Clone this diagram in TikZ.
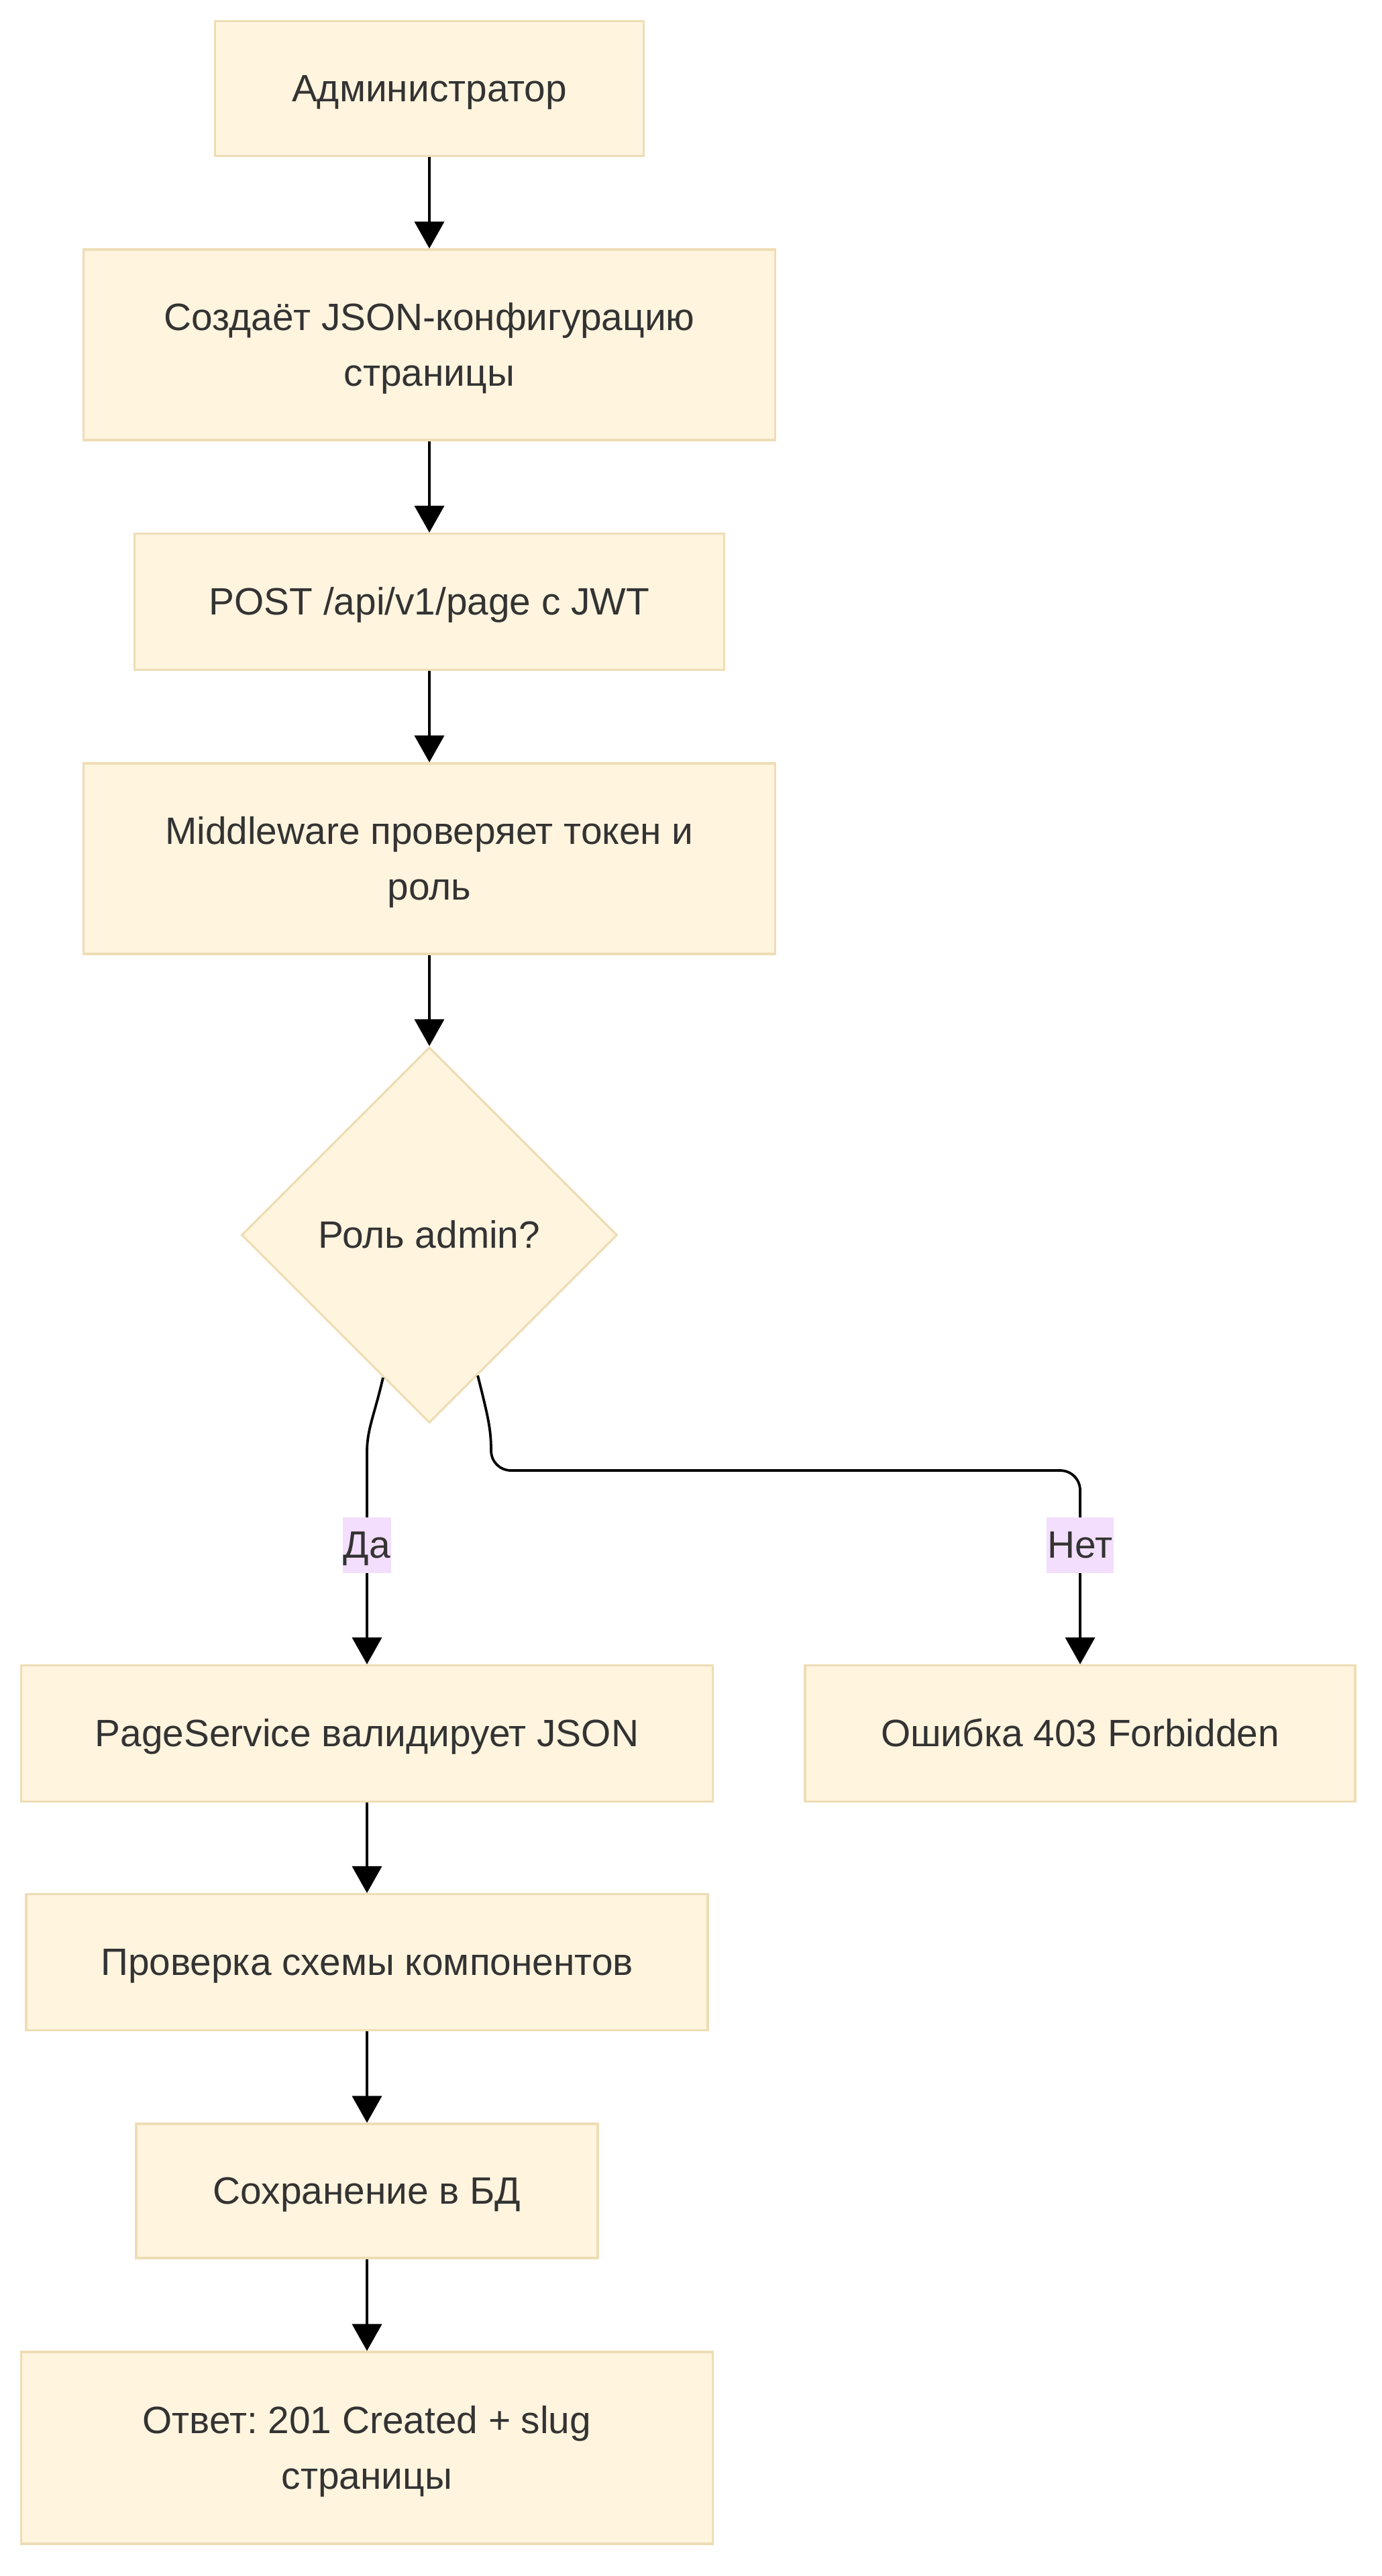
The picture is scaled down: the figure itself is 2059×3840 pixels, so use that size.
\documentclass[tikz,border=0pt]{standalone}
\usepackage{fontspec}
\setmainfont{Liberation Sans}
\usetikzlibrary{shapes.geometric,arrows.meta}
\definecolor{nodefill}{HTML}{FFF4DE}
\definecolor{nodeline}{HTML}{EEDDB5}
\definecolor{lblfill}{HTML}{F3DEFE}
\definecolor{txt}{HTML}{333333}
\newcommand\tb{\rule[-0.212em]{0pt}{1.117em}}
\frenchspacing
\begin{document}
\begin{tikzpicture}[x=0.25pt,y=-0.25pt,
  box/.style={draw=nodeline, fill=nodefill, line width=0.8pt, text=txt,
    font=\fontsize{14.2}{20.8}\selectfont, align=center, inner sep=0pt},
  dec/.style={box, diamond, aspect=1, minimum width=140pt, minimum height=140pt},
  arr/.style={line width=0.95pt, -{Triangle[length=10pt,width=11pt]}},
  lbl/.style={fill=lblfill, text=txt, font=\fontsize{14.2}{20.8}\selectfont,
    inner xsep=0.3pt, inner ysep=0pt, minimum height=20.75pt}]
\useasboundingbox[fill=white] (0,0) rectangle (2059,3840);

\node[box, minimum width=159.75pt, minimum height=50.25pt] (n1) at (640,132) {\tb Администратор};
\node[box, minimum width=257.75pt, minimum height=71pt] (n2) at (640,514) {\tb Создаёт JSON-конфигурацию\\страницы\tb};
\node[box, minimum width=219.75pt, minimum height=50.75pt] (n3) at (640,897) {\tb POST /api/v1/page с JWT};
\node[box, minimum width=257.75pt, minimum height=71pt] (n4) at (640,1280) {\tb Middleware проверяет токен и\\роль\tb};
\node[dec] (d) at (640,1841) {\tb Роль admin?};
\node[box, minimum width=257.75pt, minimum height=50.75pt] (n6) at (547,2584) {\tb PageService валидирует JSON};
\node[box, minimum width=205pt, minimum height=50.75pt] (n7) at (1610,2584) {\tb Ошибка 403 Forbidden};
\node[box, minimum width=254pt, minimum height=50.75pt] (n8) at (547,2925) {\tb Проверка схемы компонентов};
\node[box, minimum width=172pt, minimum height=50pt] (n9) at (547,3266) {\tb Сохранение в БД};
\node[box, minimum width=257.75pt, minimum height=71.5pt] (n10) at (547,3649) {\tb Ответ: 201 Created + slug\\страницы\tb};

\draw[arr] (n1) -- (n2);
\draw[arr] (n2) -- (n3);
\draw[arr] (n3) -- (n4);
\draw[arr] (n4) -- (d);
\draw[arr] (n6) -- (n8);
\draw[arr] (n8) -- (n9);
\draw[arr] (n9) -- (n10);

\coordinate (ya) at (547,2165);
\coordinate (na) at (732,2162);
\coordinate (nd) at (762,2192);
\coordinate (ne) at (1580,2192);
\coordinate (nf) at (1610,2222);
\draw[arr] (d.-108) .. controls (558,2110) and (547,2130) .. (ya) -- (n6.north);
\draw[arr] (d.-71) .. controls (727,2110) and (732,2130) .. (na)
  .. controls (732,2179) and (745,2192) .. (nd) -- (ne)
  .. controls (1597,2192) and (1610,2205) .. (nf) -- (n7.north);

\node[lbl] (ly) at (547,2303) {\tb Да};
\node[lbl] (ln) at (1610,2303) {\tb Нет};
\end{tikzpicture}
\end{document}
